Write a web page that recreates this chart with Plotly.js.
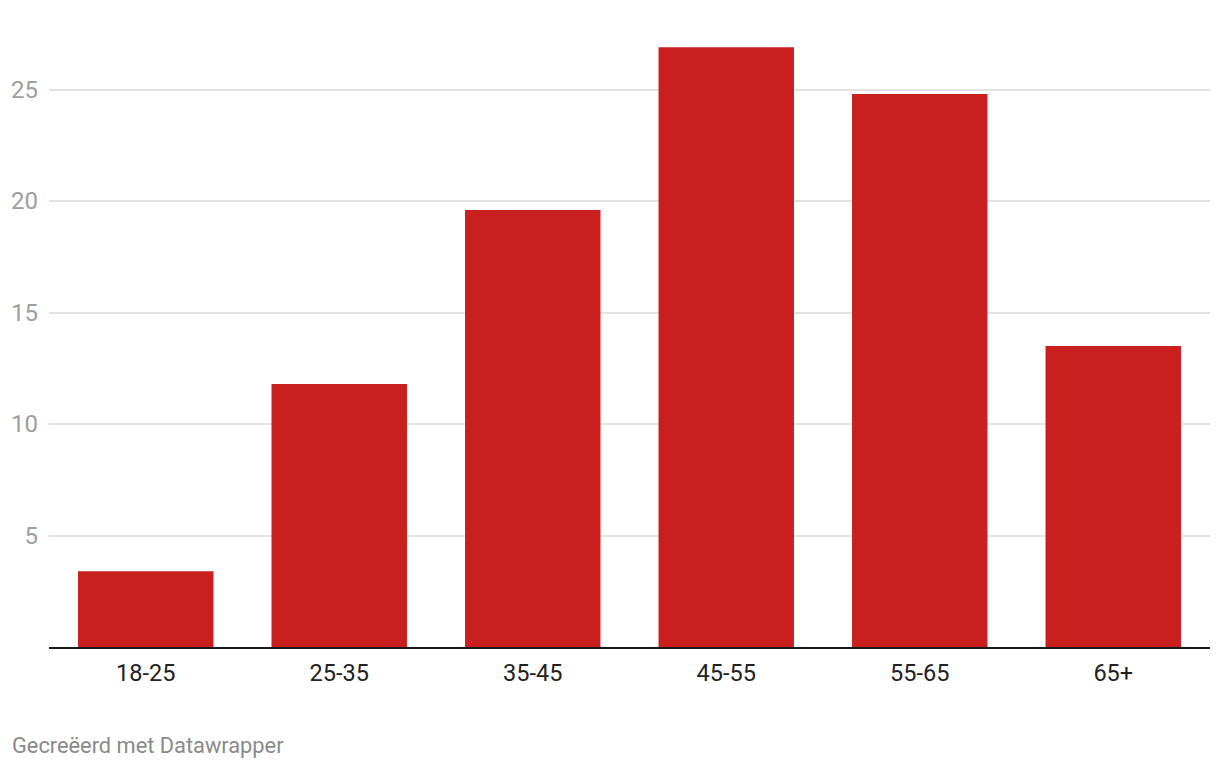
<!DOCTYPE html>
<html>
<head>
<meta charset="utf-8">
<script src="https://cdn.plot.ly/plotly-3.0.1.min.js"></script>
<style>
html,body{margin:0;padding:0;background:#fff;}
#chart{width:1220px;height:768px;}
</style>
</head>
<body>
<div id="chart"></div>
<script>
const categories = ["18-25", "25-35", "35-45", "45-55", "55-65", "65+"];
const values = [3.4, 11.8, 19.6, 26.9, 24.8, 13.5];
const yTicks = [5, 10, 15, 20, 25];
const footerText = "Gecreëerd met Datawrapper";

const trace = {
  type: "bar",
  x: categories,
  y: values,
  marker: {color: "#c91f1f"},
  hoverinfo: "x+y"
};

const layout = {
  width: 1220,
  height: 768,
  margin: {l: 49, r: 10, t: 45, b: 121},
  paper_bgcolor: "#ffffff",
  plot_bgcolor: "#ffffff",
  bargap: 0.3,
  showlegend: false,
  font: {family: "Roboto, sans-serif"},
  xaxis: {
    type: "category",
    tickfont: {size: 23.5, color: "#222222"},
    showgrid: false,
    showline: true,
    linecolor: "#1a1a1a",
    linewidth: 2,
    ticks: "",
    ticklabelstandoff: 4,
    zeroline: false
  },
  yaxis: {
    range: [0, 27],
    tickvals: yTicks,
    ticktext: yTicks.map(String),
    tickfont: {size: 24, color: "#9e9e9e"},
    showgrid: true,
    gridcolor: "#e3e3e3",
    gridwidth: 2,
    zeroline: false,
    showline: false,
    ticks: "",
    ticklabelstandoff: 10
  },
  annotations: [{
    text: footerText,
    xref: "paper", yref: "paper",
    x: 0, y: 0,
    xanchor: "left", yanchor: "middle",
    xshift: -39, yshift: -98,
    showarrow: false,
    font: {size: 21.8, color: "#8a8a8a", family: "Roboto, sans-serif"}
  }]
};

Plotly.newPlot("chart", [trace], layout, {displayModeBar: false, staticPlot: true});
</script>
</body>
</html>
